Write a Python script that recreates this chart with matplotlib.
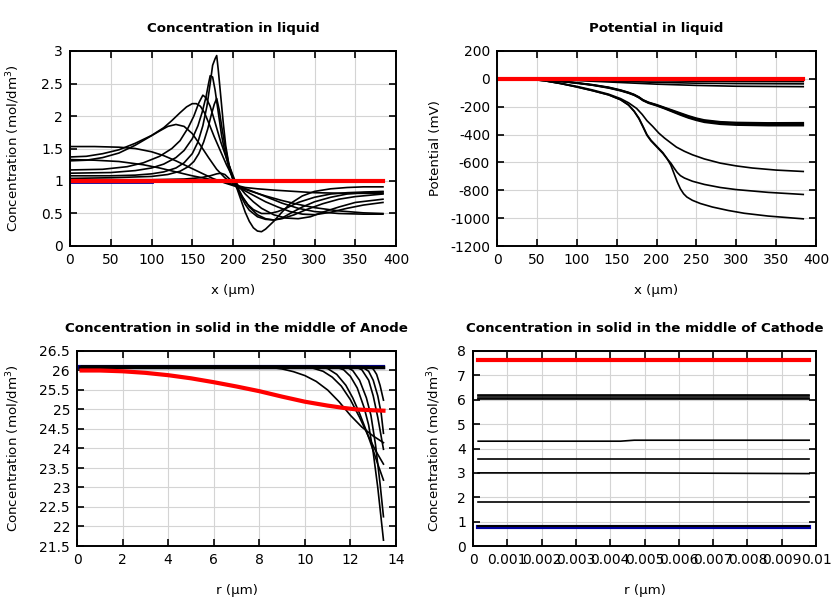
import numpy as np
import matplotlib
matplotlib.use("Agg")
import matplotlib.pyplot as plt

# ---------------- concentration in liquid ----------------
liq_red_x = [0, 384]
liq_red_y = [1.0, 1.0]
liq_blue_x = [0, 100]
liq_blue_y = [0.99, 0.99]

liq_curves = [
    # peak 2.93
    ([0, 50, 80, 100, 115, 130, 140, 150, 157, 163, 168, 172, 175, 178, 180, 182, 185, 188, 191, 195, 200, 205,
      210, 215, 220, 225, 230, 235, 240, 250, 260, 270, 285, 300, 320, 340, 360, 384],
     [1.08, 1.08, 1.09, 1.11, 1.14, 1.2, 1.28, 1.42, 1.6, 1.85, 2.15, 2.5, 2.78, 2.88, 2.93, 2.7, 2.3, 1.9, 1.55,
      1.25, 1.02, 0.88, 0.7, 0.52, 0.38, 0.28, 0.23, 0.22, 0.26, 0.38, 0.52, 0.65, 0.77, 0.84, 0.88, 0.9, 0.91, 0.91]),
    # peak 2.62
    ([0, 50, 80, 100, 115, 130, 140, 150, 157, 162, 167, 170, 172, 175, 178, 182, 186, 190, 195, 200, 205, 210,
      215, 220, 230, 240, 250, 260, 270, 285, 300, 320, 340, 360, 384],
     [1.12, 1.13, 1.16, 1.2, 1.26, 1.36, 1.47, 1.65, 1.85, 2.05, 2.3, 2.5, 2.62, 2.6, 2.4, 2.05, 1.7, 1.45, 1.2,
      1.02, 0.9, 0.76, 0.64, 0.55, 0.45, 0.41, 0.4, 0.43, 0.5, 0.6, 0.68, 0.75, 0.8, 0.82, 0.83]),
    # peak 2.32
    ([0, 40, 70, 90, 110, 125, 135, 145, 152, 158, 163, 167, 172, 178, 185, 192, 198, 205, 212, 220, 230, 240,
      250, 260, 275, 290, 310, 330, 350, 384],
     [1.17, 1.18, 1.22, 1.28, 1.38, 1.5, 1.62, 1.82, 2.0, 2.2, 2.32, 2.28, 2.15, 1.9, 1.6, 1.35, 1.15, 0.92, 0.75,
      0.6, 0.48, 0.42, 0.4, 0.42, 0.48, 0.56, 0.65, 0.72, 0.76, 0.8]),
    # late peak 2.27
    ([0, 50, 100, 120, 135, 145, 152, 158, 164, 169, 173, 177, 180, 183, 186, 190, 195, 200, 205, 210, 218, 225,
      235, 245, 255, 265, 280, 300, 320, 340, 360, 384],
     [1.04, 1.05, 1.07, 1.1, 1.15, 1.22, 1.3, 1.42, 1.6, 1.8, 2.0, 2.18, 2.27, 2.1, 1.85, 1.55, 1.25, 1.05, 0.9,
      0.78, 0.64, 0.56, 0.5, 0.5, 0.53, 0.58, 0.67, 0.75, 0.8, 0.82, 0.83, 0.84]),
    # peak 2.19
    ([0, 20, 40, 60, 80, 100, 115, 125, 135, 143, 150, 155, 160, 165, 170, 177, 185, 192, 200, 207, 215, 225,
      235, 250, 265, 280, 295, 310, 330, 350, 384],
     [1.37, 1.38, 1.42, 1.48, 1.58, 1.7, 1.82, 1.93, 2.05, 2.14, 2.19, 2.19, 2.15, 2.05, 1.9, 1.68, 1.45, 1.25,
      1.05, 0.92, 0.8, 0.68, 0.58, 0.48, 0.43, 0.42, 0.45, 0.52, 0.6, 0.67, 0.72]),
    # peak 1.87
    ([0, 20, 40, 60, 80, 95, 110, 120, 130, 140, 150, 160, 170, 180, 190, 200, 210, 225, 240, 255, 270, 285,
      300, 320, 340, 360, 384],
     [1.31, 1.32, 1.36, 1.43, 1.55, 1.66, 1.77, 1.84, 1.87, 1.84, 1.73, 1.55, 1.36, 1.18, 1.05, 0.96, 0.88,
      0.78, 0.68, 0.6, 0.53, 0.49, 0.48, 0.52, 0.58, 0.63, 0.67]),
    # plateau 1.53, declining
    ([0, 30, 60, 80, 100, 115, 130, 145, 160, 175, 190, 200, 210, 225, 240, 260, 280, 300, 330, 360, 384],
     [1.53, 1.53, 1.52, 1.5, 1.45, 1.39, 1.31, 1.22, 1.13, 1.04, 0.97, 0.93, 0.89, 0.83, 0.77, 0.7, 0.64, 0.59,
      0.54, 0.51, 0.5]),
    # plateau 1.33, declining
    ([0, 30, 60, 90, 110, 130, 150, 170, 190, 205, 220, 240, 260, 280, 300, 330, 360, 384],
     [1.33, 1.32, 1.3, 1.25, 1.2, 1.14, 1.08, 1.03, 0.98, 0.93, 0.86, 0.76, 0.66, 0.58, 0.53, 0.5, 0.49, 0.49]),
    # small bump
    ([0, 100, 140, 160, 172, 180, 185, 190, 195, 200, 205, 215, 230, 250, 275, 300, 340, 384],
     [1.02, 1.02, 1.03, 1.05, 1.08, 1.11, 1.12, 1.1, 1.04, 0.98, 0.93, 0.9, 0.88, 0.86, 0.84, 0.82, 0.81, 0.81]),
]

# ---------------- potential in liquid ----------------
pot_red_x = [0, 384]
pot_red_y = [0, 0]
pot_gray_x = [80, 125]
pot_gray_y = [8, 8]

pot_mid_x = [0, 40, 60, 80, 100, 120, 140, 155, 165, 172, 178, 183, 190, 200, 210, 220, 230, 240, 250, 260,
             280, 300, 340, 384]
pot_small_x = [0, 40, 100, 150, 200, 250, 300, 384]

pot_curves = [
    ([0, 40, 60, 80, 100, 120, 140, 155, 165, 172, 178, 183, 188, 193, 198, 203, 208, 213, 218, 222, 226, 230,
      234, 238, 245, 255, 270, 290, 310, 340, 384],
     [0, -2, -14, -34, -58, -85, -115, -150, -188, -232, -282, -340, -400, -440, -470, -500, -530, -570, -620,
      -680, -740, -790, -825, -848, -872, -895, -920, -945, -965, -985, -1005]),
    ([0, 40, 60, 80, 100, 120, 140, 155, 165, 172, 178, 183, 188, 193, 198, 203, 208, 213, 218, 222, 226, 230,
      235, 245, 260, 280, 300, 340, 384],
     [0, -2, -14, -34, -58, -85, -115, -150, -188, -234, -287, -345, -405, -445, -475, -505, -535, -572, -605,
      -640, -672, -695, -712, -735, -758, -780, -795, -815, -830]),
    ([0, 40, 60, 80, 100, 120, 140, 155, 165, 175, 182, 188, 195, 203, 210, 218, 225, 235, 245, 260, 280, 300,
      320, 350, 384],
     [0, -2, -13, -32, -54, -80, -110, -142, -172, -212, -255, -300, -340, -390, -425, -460, -490, -520, -545,
      -575, -605, -625, -640, -655, -665]),
    (pot_mid_x, [0, -2, -8, -17, -28, -42, -60, -80, -97, -112, -130, -150, -168, -185, -205, -225, -245, -265,
                 -282, -295, -308, -313, -316, -315]),
    (pot_mid_x, [0, -2, -8, -17, -29, -43, -62, -82, -99, -114, -132, -152, -170, -188, -208, -229, -250, -270,
                 -287, -300, -313, -318, -321, -321]),
    (pot_mid_x, [0, -2, -9, -18, -30, -45, -64, -84, -101, -116, -134, -154, -172, -190, -211, -233, -255, -276,
                 -293, -306, -320, -326, -330, -330]),
    (pot_mid_x, [0, -2, -9, -18, -31, -46, -66, -86, -103, -118, -136, -156, -175, -193, -214, -237, -260, -281,
                 -298, -312, -326, -332, -336, -336]),
    (pot_small_x, [0, -1, -3, -5, -6, -7, -8, -8]),
    (pot_small_x, [0, -1, -5, -10, -14, -17, -19, -20]),
    (pot_small_x, [0, -2, -8, -17, -25, -31, -34, -36]),
    (pot_small_x, [0, -2, -12, -25, -38, -47, -53, -56]),
]

# ---------------- solid, anode ----------------
an_flat_x = [0.15, 13.45]
an_flat_y = [26.1, 26.1]
an_red_x = [0.2, 1, 2, 3, 4, 5, 6, 7, 8, 9, 10, 11, 11.7, 12.3, 13, 13.45]
an_red_y = [26.0, 26.0, 25.98, 25.94, 25.88, 25.8, 25.7, 25.59, 25.47, 25.33, 25.2, 25.1, 25.04, 25.0, 24.98,
            24.97]

an_curves = [
    ([0.2, 8.0, 8.5, 9.0, 9.5, 10.0, 10.5, 11.0, 11.5, 12.0, 12.5, 13.0, 13.45],
     [26.1, 26.1, 26.08, 26.04, 25.97, 25.87, 25.72, 25.5, 25.2, 24.85, 24.55, 24.32, 24.15]),
    ([0.2, 9.8, 10.3, 10.8, 11.2, 11.6, 12.0, 12.4, 12.8, 13.1, 13.45],
     [26.1, 26.1, 26.07, 25.98, 25.83, 25.6, 25.25, 24.8, 24.3, 23.95, 23.6]),
    ([0.2, 10.6, 11.0, 11.4, 11.8, 12.1, 12.4, 12.7, 13.0, 13.2, 13.45],
     [26.1, 26.1, 26.05, 25.9, 25.62, 25.3, 24.9, 24.45, 23.95, 23.6, 23.19]),
    ([0.2, 11.3, 11.7, 12.0, 12.3, 12.6, 12.8, 13.0, 13.2, 13.45],
     [26.1, 26.1, 26.02, 25.85, 25.55, 25.05, 24.6, 23.9, 23.0, 21.65]),
    ([0.2, 11.8, 12.1, 12.4, 12.7, 12.9, 13.1, 13.3, 13.45],
     [26.1, 26.1, 26.0, 25.75, 25.3, 24.85, 24.1, 23.1, 22.25]),
    ([0.2, 12.2, 12.5, 12.8, 13.0, 13.2, 13.45],
     [26.1, 26.1, 26.02, 25.75, 25.35, 24.8, 23.98]),
    ([0.2, 12.5, 12.8, 13.0, 13.2, 13.35, 13.45],
     [26.1, 26.1, 25.98, 25.75, 25.35, 24.9, 24.39]),
    ([0.2, 12.8, 13.0, 13.15, 13.3, 13.45],
     [26.1, 26.1, 26.04, 25.9, 25.62, 25.24]),
]

# ---------------- solid, cathode ----------------
cat_x = [0.00015, 0.0043, 0.0047, 0.0098]
cat_red = [7.62, 7.62, 7.62, 7.62]
cat_blue = [0.80, 0.80, 0.80, 0.80]
cat_levels = [
    [6.21, 6.21, 6.21, 6.21],
    [6.15, 6.15, 6.15, 6.15],
    [6.09, 6.09, 6.09, 6.09],
    [6.04, 6.04, 6.04, 6.04],
    [4.30, 4.30, 4.34, 4.34],
    [3.57, 3.57, 3.57, 3.57],
    [3.00, 3.00, 3.00, 2.97],
    [1.82, 1.82, 1.82, 1.82],
    [0.84, 0.84, 0.84, 0.84],
    [0.82, 0.82, 0.82, 0.82],
]

plt.rcParams['font.family'] = 'DejaVu Sans'
plt.rcParams['font.size'] = 9.5
plt.rcParams['axes.unicode_minus'] = False

fig = plt.figure(figsize=(8.4, 6), dpi=100)
W, H = 840.0, 600.0


def mkax(l, t, r, b):
    return fig.add_axes([l / W, 1 - b / H, (r - l) / W, (b - t) / H])


def style(ax, title, xlabel, ylabel, ylab_x):
    ax.set_title(title, fontsize=9.6, fontweight='bold', pad=14)
    ax.set_xlabel(xlabel, fontsize=9.6, labelpad=12)
    ax.set_ylabel(ylabel, fontsize=9.6)
    ax.yaxis.set_label_coords(ylab_x, 0.5)
    ax.grid(True, color='#d4d4d4', linewidth=0.8)
    ax.set_axisbelow(True)
    ax.tick_params(direction='in', top=True, right=True, length=5, width=1.2,
                   labelsize=10, pad=5)
    for s in ax.spines.values():
        s.set_linewidth(1.4)


lw = 1.2
ylab_c = 'Concentration (mol/dm$^3$)'

# top left
ax1 = mkax(70, 51, 396, 246)
for x, y in liq_curves:
    ax1.plot(x, y, color='black', lw=lw)
ax1.plot(liq_blue_x, liq_blue_y, color='#0000a0', lw=2)
ax1.plot(liq_red_x, liq_red_y, color='red', lw=3)
ax1.set_xlim(0, 400)
ax1.set_ylim(0, 3)
ax1.set_xticks(np.arange(0, 401, 50))
ax1.set_yticks([0, 0.5, 1, 1.5, 2, 2.5, 3])
ax1.set_yticklabels(['0', '0.5', '1', '1.5', '2', '2.5', '3'])
style(ax1, 'Concentration in liquid', 'x (µm)', ylab_c, (22.5 - 70) / 326)

# top right
ax2 = mkax(497, 51, 816, 246)
ax2.plot(pot_gray_x, pot_gray_y, color='#c0c0c0', lw=1.5)
for x, y in pot_curves:
    ax2.plot(x, y, color='black', lw=lw)
ax2.plot(pot_red_x, pot_red_y, color='red', lw=3)
ax2.set_xlim(0, 400)
ax2.set_ylim(-1200, 200)
ax2.set_xticks(np.arange(0, 401, 50))
ax2.set_yticks(np.arange(-1200, 201, 200))
style(ax2, 'Potential in liquid', 'x (µm)', 'Potential (mV)', (441.5 - 497) / 319)

# bottom left
ax3 = mkax(77, 351, 396, 546)
ax3.plot(an_flat_x, an_flat_y, color='#0000a0', lw=3)
for x, y in an_curves:
    ax3.plot(x, y, color='black', lw=lw)
ax3.plot(an_flat_x, an_flat_y, color='black', lw=2.5)
ax3.plot(an_red_x, an_red_y, color='red', lw=3)
ax3.set_xlim(0, 14)
ax3.set_ylim(21.5, 26.5)
ax3.set_xticks(np.arange(0, 15, 2))
ax3.set_yticks(np.arange(21.5, 26.6, 0.5))
ax3.set_yticklabels(['21.5', '22', '22.5', '23', '23.5', '24', '24.5', '25', '25.5', '26', '26.5'])
style(ax3, 'Concentration in solid in the middle of Anode', 'r (µm)', ylab_c, (22.5 - 77) / 319)

# bottom right
ax4 = mkax(473, 351, 816, 546)
ax4.plot(cat_x, cat_blue, color='#0000a0', lw=3)
for y in cat_levels:
    ax4.plot(cat_x, y, color='black', lw=lw)
ax4.plot(cat_x, cat_red, color='red', lw=3)
ax4.set_xlim(0, 0.01)
ax4.set_ylim(0, 8)
ax4.set_xticks(np.arange(0, 0.01001, 0.001))
ax4.set_xticklabels(['0', '0.001', '0.002', '0.003', '0.004', '0.005', '0.006',
                     '0.007', '0.008', '0.009', '0.01'])
ax4.set_yticks(np.arange(0, 9, 1))
style(ax4, 'Concentration in solid in the middle of Cathode', 'r (µm)', ylab_c, (443 - 473) / 343)

fig.savefig('out.png', dpi=100)
